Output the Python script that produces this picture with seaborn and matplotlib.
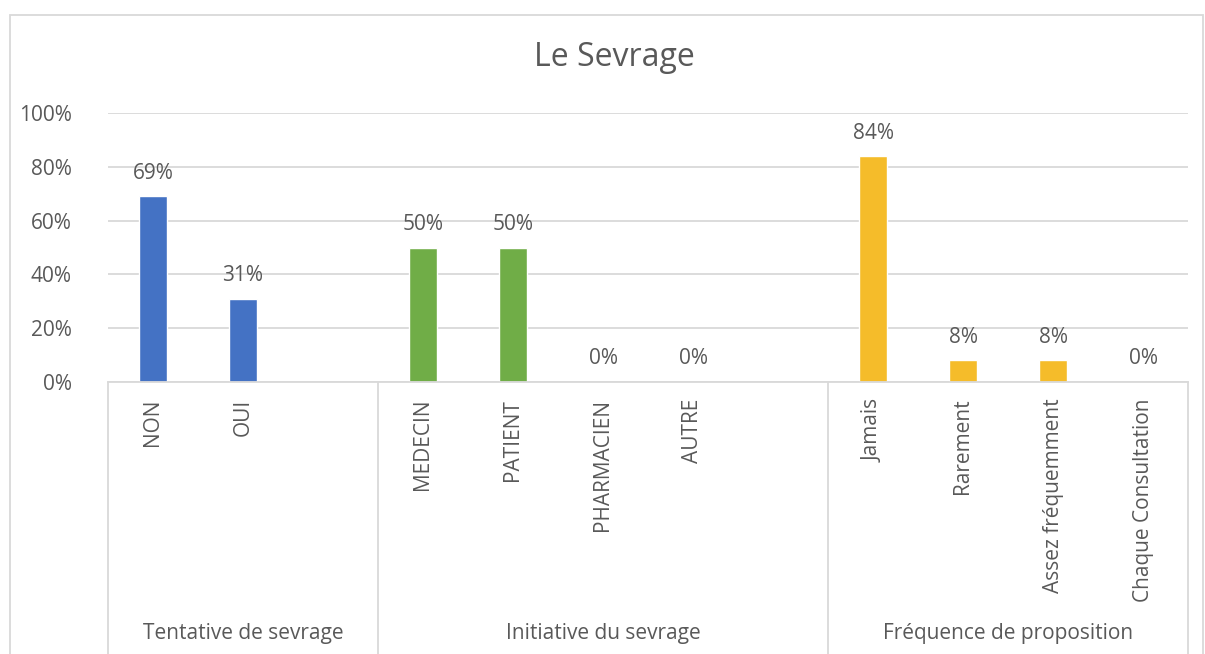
import matplotlib
matplotlib.use("Agg")
import matplotlib.pyplot as plt
import matplotlib.transforms as mtransforms
from matplotlib.patches import Rectangle
import seaborn as sns
import pandas as pd

# ---- data ----
categories = ["NON", "OUI", "", "MEDECIN", "PATIENT", "PHARMACIEN", "AUTRE", " ",
              "Jamais", "Rarement", "Assez fréquemment", "Chaque Consultation"]
values = [0.69, 0.31, None, 0.50, 0.50, 0.0, 0.0, None, 0.84, 0.08, 0.08, 0.0]
groups = ["Tentative de sevrage"] * 3 + ["Initiative du sevrage"] * 5 + ["Fréquence de proposition"] * 4
group_names = ["Tentative de sevrage", "Initiative du sevrage", "Fréquence de proposition"]
group_colors = ["#4472C4", "#70AD47", "#F5BC2A"]
yticks = [0, 0.2, 0.4, 0.6, 0.8, 1.0]
ytick_labels = ["0%", "20%", "40%", "60%", "80%", "100%"]
title = "Le Sevrage"

sns.set_style("white")
plt.rcParams["font.family"] = ["Open Sans", "DejaVu Sans"]
TXT = "#595959"
FS = 15

W, H = 1205, 654
fig = plt.figure(figsize=(W / 100, H / 100), dpi=100)
ax = fig.add_axes([108 / W, (H - 382) / H, (1188 - 108) / W, (382 - 113) / H])

df = pd.DataFrame({"cat": categories, "val": values, "grp": groups})
df_plot = df.dropna(subset=["val"])
sns.barplot(data=df_plot, x="cat", y="val", hue="grp", order=categories,
            hue_order=group_names, palette=group_colors, dodge=False,
            width=0.31, legend=False, ax=ax, saturation=1)

ax.set_ylim(0, 1.0)
ax.set_xlim(-0.5, len(categories) - 0.5)
ax.set_yticks(yticks)
ax.set_yticklabels(ytick_labels, fontsize=FS, color=TXT)
ax.tick_params(axis="y", length=0, pad=26)
ax.tick_params(axis="x", length=0, pad=12)
ax.set_xticks(range(len(categories)))
ax.set_xticklabels([c.strip() for c in categories], rotation=90, fontsize=FS,
                   color=TXT, va="top")
ax.set_xlabel("")
ax.set_ylabel("")
ax.grid(axis="y", color="#D9D9D9", linewidth=1.3)
ax.set_axisbelow(True)
for s in ["left", "right", "top"]:
    ax.spines[s].set_visible(False)
ax.spines["bottom"].set_color("#D9D9D9")
ax.spines["bottom"].set_linewidth(1.3)

# value labels
for i, v in enumerate(values):
    if v is None:
        continue
    ax.annotate(f"{round(v * 100):.0f}%", (i, v), xytext=(0, 9),
                textcoords="offset points", ha="center", va="bottom",
                fontsize=FS, color=TXT)

# group separators and labels
trans = mtransforms.blended_transform_factory(ax.transData, fig.transFigure)
seps = [-0.5]
start = 0
for g in group_names:
    n = groups.count(g)
    seps.append(start + n - 0.5)
    ax.text(start + (n - 1) / 2, (H - 633) / H, g, transform=trans,
            ha="center", va="center", fontsize=FS, color=TXT)
    start += n
for x in seps:
    ax.plot([x, x], [(H - 382) / H, 0], transform=trans, color="#D9D9D9",
            linewidth=1.3, clip_on=False)

fig.text(614 / W, (H - 58) / H, title, ha="center", va="center",
         fontsize=23, color=TXT)

# outer chart frame
fig.patches.append(Rectangle((10 / W, -0.05), (1203 - 10) / W, (H - 15) / H + 0.05,
                             transform=fig.transFigure, fill=False,
                             edgecolor="#D9D9D9", linewidth=1.3))

fig.savefig("out.png", dpi=100)
